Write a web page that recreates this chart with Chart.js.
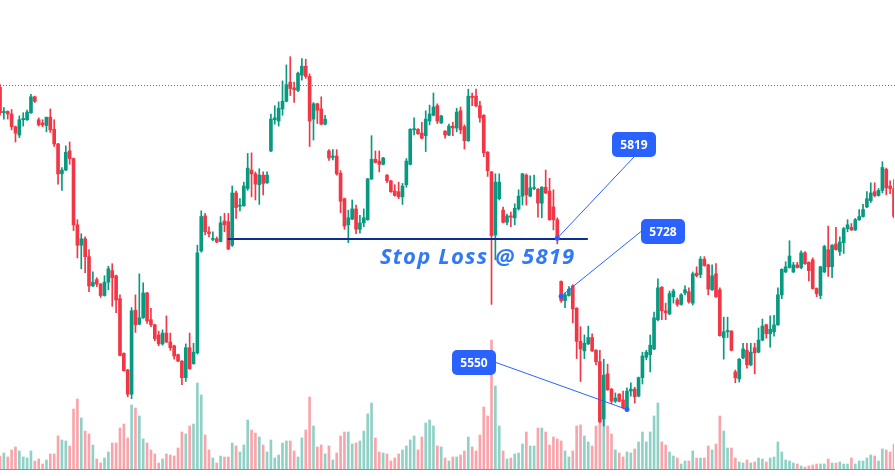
<!DOCTYPE html>
<html lang="en">
<head>
<meta charset="UTF-8">
<title>Stop Loss @ 5819</title>
<script src="https://cdn.jsdelivr.net/npm/chart.js"></script>
<style>
    html, body { margin: 0; padding: 0; background: #ffffff; }
    canvas { display: block; }
</style>
</head>
<body>
<canvas id="myChart" width="895" height="476"></canvas>

<script>
    // daily OHLC
    const opens = [
        6056, 6016, 6018, 6014, 5994, 5981, 6005, 6005, 6016, 6041,
        6005, 6000, 5996, 6009, 5990, 5967, 5920, 5926, 5956, 5944,
        5840, 5808, 5818, 5790, 5744, 5754, 5747, 5729, 5750, 5768,
        5760, 5724, 5638, 5612, 5574, 5706, 5684, 5694, 5733, 5691,
        5683, 5667, 5653, 5670, 5656, 5650, 5636, 5626, 5600, 5647,
        5622, 5639, 5799, 5854, 5829, 5817, 5818, 5814, 5846, 5845,
        5808, 5890, 5869, 5870, 5897, 5926, 5920, 5903, 5918, 5906,
        5956, 6005, 6003, 6022, 6034, 6064, 6055, 6051, 6075, 6089,
        6073, 6006, 6030, 6022, 5998, 5956, 5946, 5948, 5921, 5881,
        5840, 5849, 5865, 5833, 5843, 5848, 5912, 5943, 5940, 5935,
        5918, 5909, 5893, 5892, 5884, 5903, 5935, 5989, 5990, 5984,
        5980, 6003, 6012, 6027, 6000, 5987, 5981, 5995, 5992, 6019,
        5994, 5972, 6042, 6042, 6027, 6012, 5954, 5923, 5824, 5881,
        5863, 5844, 5854, 5851, 5865, 5885, 5918, 5885, 5897, 5896,
        5874, 5899, 5893, 5868, 5848, 5751, 5721, 5729, 5744, 5709,
        5657, 5642, 5653, 5663, 5643, 5625, 5535, 5606, 5582, 5563,
        5574, 5565, 5552, 5579, 5582, 5571, 5600, 5632, 5636, 5645,
        5691, 5742, 5705, 5700, 5727, 5722, 5715, 5733, 5735, 5717,
        5764, 5762, 5786, 5777, 5738, 5763, 5738, 5663, 5672, 5673,
        5609, 5598, 5631, 5643, 5620, 5647, 5640, 5659, 5683, 5669,
        5672, 5683, 5730, 5766, 5773, 5766, 5777, 5773, 5796, 5781,
        5785, 5740, 5729, 5766, 5801, 5774, 5810, 5798, 5812, 5834,
        5836, 5832, 5848, 5853, 5868, 5878, 5892, 5886, 5894, 5927,
        5901, 5897
    ];
    const highs = [
        6060, 6024, 6019, 6021, 5995, 6011, 6016, 6020, 6045, 6042,
        6008, 6005, 6009, 6022, 6005, 5968, 5930, 5964, 5970, 5945,
        5848, 5826, 5821, 5801, 5766, 5757, 5748, 5760, 5775, 5779,
        5761, 5730, 5639, 5613, 5710, 5730, 5763, 5749, 5734, 5709,
        5684, 5673, 5675, 5697, 5670, 5651, 5637, 5627, 5653, 5670,
        5654, 5808, 5862, 5858, 5837, 5829, 5821, 5853, 5858, 5858,
        5901, 5893, 5881, 5907, 5952, 5953, 5923, 5928, 5923, 5923,
        6014, 6027, 6033, 6066, 6091, 6104, 6064, 6080, 6101, 6100,
        6077, 6032, 6031, 6041, 6012, 5958, 5958, 5958, 5925, 5882,
        5863, 5879, 5871, 5855, 5865, 5913, 5980, 5956, 5956, 5946,
        5919, 5910, 5903, 5907, 5905, 5944, 5991, 6008, 5991, 6001,
        6019, 6028, 6047, 6030, 6012, 5988, 5998, 6001, 6023, 6025,
        5997, 6053, 6047, 6053, 6034, 6013, 5955, 5924, 5920, 5920,
        5868, 5857, 5860, 5873, 5895, 5921, 5920, 5917, 5918, 5897,
        5900, 5926, 5913, 5895, 5851, 5752, 5733, 5743, 5746, 5710,
        5680, 5667, 5681, 5669, 5644, 5643, 5629, 5621, 5583, 5576,
        5575, 5579, 5584, 5592, 5585, 5601, 5640, 5643, 5667, 5703,
        5755, 5743, 5717, 5736, 5739, 5725, 5732, 5744, 5741, 5766,
        5774, 5790, 5790, 5778, 5777, 5779, 5741, 5695, 5695, 5674,
        5612, 5630, 5654, 5654, 5654, 5654, 5678, 5692, 5684, 5697,
        5698, 5741, 5771, 5782, 5815, 5781, 5781, 5799, 5798, 5782,
        5788, 5741, 5775, 5808, 5838, 5809, 5836, 5821, 5836, 5848,
        5842, 5850, 5864, 5872, 5892, 5906, 5906, 5897, 5939, 5929,
        5909, 5911
    ];
    const lows = [
        6012, 6006, 6006, 5989, 5970, 5977, 5995, 6004, 6015, 6032,
        5995, 5994, 5986, 5985, 5963, 5904, 5894, 5925, 5935, 5831,
        5788, 5771, 5765, 5735, 5743, 5743, 5726, 5728, 5738, 5712,
        5702, 5634, 5610, 5570, 5567, 5671, 5683, 5693, 5685, 5680,
        5658, 5650, 5651, 5655, 5643, 5629, 5625, 5589, 5594, 5613,
        5621, 5637, 5797, 5824, 5821, 5815, 5812, 5813, 5829, 5801,
        5806, 5850, 5862, 5869, 5894, 5884, 5879, 5872, 5887, 5905,
        5955, 5998, 5995, 6012, 6033, 6043, 6032, 6049, 6067, 6070,
        5963, 5973, 5999, 5997, 5997, 5941, 5942, 5918, 5859, 5833,
        5812, 5848, 5826, 5827, 5837, 5847, 5911, 5937, 5923, 5934,
        5906, 5891, 5885, 5881, 5872, 5899, 5934, 5981, 5982, 5975,
        5955, 5997, 6011, 5999, 5999, 5976, 5980, 5980, 5986, 5983,
        5959, 5971, 6027, 6025, 6001, 5947, 5916, 5715, 5785, 5879,
        5843, 5840, 5837, 5840, 5863, 5871, 5871, 5884, 5895, 5852,
        5851, 5889, 5847, 5832, 5810, 5718, 5710, 5728, 5686, 5630,
        5594, 5630, 5652, 5641, 5620, 5529, 5524, 5580, 5559, 5561,
        5562, 5551, 5550, 5571, 5560, 5570, 5590, 5628, 5609, 5644,
        5689, 5691, 5691, 5699, 5717, 5712, 5714, 5730, 5717, 5714,
        5758, 5757, 5775, 5730, 5737, 5726, 5665, 5629, 5663, 5642,
        5592, 5593, 5630, 5615, 5619, 5606, 5639, 5658, 5662, 5648,
        5665, 5682, 5724, 5765, 5772, 5765, 5772, 5771, 5778, 5752,
        5739, 5727, 5724, 5765, 5759, 5757, 5800, 5792, 5795, 5829,
        5831, 5831, 5847, 5852, 5867, 5875, 5884, 5885, 5890, 5887,
        5889, 5851
    ];
    const closes = [
        6016, 6018, 6014, 5994, 5984, 6005, 6007, 6017, 6041, 6034,
        5997, 5997, 6009, 5989, 5967, 5920, 5926, 5954, 5944, 5840,
        5808, 5818, 5790, 5744, 5750, 5747, 5729, 5750, 5771, 5757,
        5722, 5635, 5611, 5574, 5705, 5683, 5694, 5733, 5689, 5683,
        5661, 5653, 5670, 5656, 5647, 5634, 5626, 5600, 5647, 5614,
        5640, 5796, 5853, 5829, 5826, 5818, 5813, 5843, 5840, 5802,
        5890, 5867, 5871, 5901, 5929, 5920, 5904, 5918, 5905, 5918,
        6006, 6008, 6023, 6034, 6060, 6054, 6052, 6078, 6089, 6073,
        6003, 6030, 6020, 5998, 6006, 5945, 5948, 5920, 5877, 5838,
        5851, 5865, 5833, 5843, 5851, 5912, 5943, 5938, 5935, 5945,
        5909, 5892, 5886, 5884, 5901, 5940, 5990, 5991, 5983, 5976,
        6006, 6014, 6025, 6003, 6011, 5981, 5995, 5992, 6017, 5989,
        5972, 6042, 6040, 6027, 6008, 5953, 5925, 5823, 5907, 5907,
        5844, 5854, 5852, 5866, 5885, 5920, 5887, 5898, 5898, 5874,
        5899, 5890, 5848, 5848, 5819, 5721, 5730, 5739, 5708, 5657,
        5645, 5654, 5663, 5642, 5625, 5531, 5604, 5581, 5563, 5568,
        5563, 5553, 5579, 5582, 5570, 5600, 5634, 5640, 5651, 5694,
        5741, 5705, 5702, 5732, 5736, 5715, 5730, 5738, 5719, 5763,
        5760, 5786, 5776, 5739, 5760, 5727, 5666, 5672, 5674, 5643,
        5600, 5629, 5645, 5620, 5640, 5639, 5659, 5681, 5669, 5676,
        5683, 5730, 5770, 5774, 5791, 5777, 5773, 5796, 5779, 5768,
        5740, 5732, 5774, 5806, 5774, 5808, 5801, 5813, 5834, 5840,
        5832, 5848, 5853, 5864, 5881, 5890, 5886, 5894, 5930, 5898,
        5897, 5853
    ];
    // volume in thousands
    const volumes = [
        14, 17, 13, 20, 23, 19, 13, 12, 19, 9,
        11, 6, 10, 16, 16, 34, 30, 29, 24, 61,
        71, 52, 39, 36, 25, 11, 7, 12, 18, 27,
        27, 42, 46, 32, 65, 62, 54, 31, 27, 20,
        16, 7, 11, 16, 15, 14, 22, 38, 36, 44,
        46, 87, 75, 35, 20, 12, 7, 14, 13, 13,
        27, 24, 18, 25, 50, 40, 37, 33, 25, 18,
        30, 12, 15, 27, 29, 29, 19, 13, 32, 40,
        73, 44, 23, 25, 16, 24, 10, 17, 34, 38,
        38, 26, 27, 29, 39, 56, 67, 32, 18, 17,
        16, 9, 12, 16, 20, 24, 30, 34, 20, 33,
        47, 50, 44, 24, 23, 12, 9, 13, 13, 15,
        19, 33, 23, 19, 35, 63, 54, 130, 84, 44,
        19, 11, 12, 16, 17, 26, 38, 24, 24, 42,
        42, 38, 25, 33, 31, 29, 19, 13, 19, 44,
        45, 34, 28, 24, 44, 51, 50, 44, 36, 20,
        17, 13, 18, 17, 21, 28, 38, 28, 38, 54,
        67, 28, 25, 18, 14, 12, 6, 9, 9, 19,
        12, 12, 12, 24, 20, 26, 54, 39, 22, 22,
        12, 8, 7, 10, 7, 8, 12, 11, 8, 12,
        13, 28, 18, 10, 9, 7, 6, 4, 3, 4,
        5, 6, 6, 6, 11, 7, 7, 8, 6, 6,
        12, 6, 9, 9, 12, 15, 14, 9, 21, 20,
        18, 26
    ];
    const labels = opens.map((o, i) => 'Day ' + (i + 1));

    const stopLoss = 5819;
    const stopLossFrom = 58.8;   // bar index where the line starts
    const stopLossTo = 151.9;    // bar index where it ends
    const dottedLevel = 6060;

    // price callouts: bar index + price they point at
    const calloutLabels = ['5819', '5728', '5550'];
    const calloutIndex = [144, 145, 162];
    const calloutPrice = [5819, 5728, 5550];

    const upColor = '#089981';
    const downColor = '#f23645';
    const candleColors = opens.map((o, i) => closes[i] >= o ? upColor : downColor);
    const volumeColors = opens.map((o, i) => closes[i] >= o ? 'rgba(8,153,129,0.45)' : 'rgba(242,54,69,0.45)');

    // where the callout boxes sit, and which side the line joins
    const boxes = [
        { x: 612, y: 132, w: 44, h: 25, side: 'bottom' },
        { x: 641, y: 219, w: 44, h: 25, side: 'left' },
        { x: 452, y: 350, w: 44, h: 25, side: 'right' }
    ];

    const overlay = {
        id: 'overlay',
        beforeDatasetsDraw(chart) {
            const { ctx, chartArea } = chart;
            const y = chart.scales.y;
            const py = Math.round(y.getPixelForValue(dottedLevel)) + 0.5;
            ctx.save();
            ctx.strokeStyle = upColor;
            ctx.lineWidth = 1;
            ctx.setLineDash([1, 2]);
            ctx.beginPath();
            ctx.moveTo(0, py);
            ctx.lineTo(chart.width, py);
            ctx.stroke();
            ctx.setLineDash([]);

            // label text sits under the wicks
            ctx.fillStyle = '#3179f5';
            ctx.font = 'italic bold 22px "Open Sans"';
            ctx.letterSpacing = '1.2px';
            ctx.textAlign = 'left';
            ctx.textBaseline = 'alphabetic';
            ctx.fillText('Stop Loss @ ' + stopLoss, 380, 264);
            ctx.restore();
        },
        afterDatasetsDraw(chart) {
            const { ctx, chartArea } = chart;
            const x = chart.scales.x;
            const y = chart.scales.y;
            ctx.save();

            // bottom border under the volume
            ctx.strokeStyle = '#5b9cf6';
            ctx.lineWidth = 1;
            ctx.beginPath();
            ctx.moveTo(0, chartArea.bottom - 0.5);
            ctx.lineTo(chart.width, chartArea.bottom - 0.5);
            ctx.stroke();

            // stop loss line
            const sy = Math.round(y.getPixelForValue(stopLoss)) + 1;
            ctx.strokeStyle = '#0c2f91';
            ctx.lineWidth = 2;
            ctx.beginPath();
            ctx.moveTo(x.getPixelForValue(stopLossFrom), sy);
            ctx.lineTo(x.getPixelForValue(stopLossTo), sy);
            ctx.stroke();

            // callouts
            for (let i = 0; i < calloutLabels.length; i++) {
                const ax = x.getPixelForValue(calloutIndex[i]);
                const ay = y.getPixelForValue(calloutPrice[i]);
                const b = boxes[i];
                let ex = b.x + b.w / 2, ey = b.y + b.h;
                if (b.side == 'left') { ex = b.x; ey = b.y + b.h / 2; }
                if (b.side == 'right') { ex = b.x + b.w; ey = b.y + b.h / 2; }

                ctx.strokeStyle = '#2962ff';
                ctx.lineWidth = 1;
                ctx.beginPath();
                ctx.moveTo(ax, ay);
                ctx.lineTo(ex, ey);
                ctx.stroke();

                ctx.fillStyle = '#2962ff';
                ctx.beginPath();
                ctx.arc(ax, ay, 2.5, 0, Math.PI * 2);
                ctx.fill();

                ctx.beginPath();
                ctx.roundRect(b.x, b.y, b.w, b.h, 5);
                ctx.fill();

                ctx.fillStyle = '#ffffff';
                ctx.font = 'bold 12px "Open Sans"';
                ctx.textAlign = 'center';
                ctx.textBaseline = 'middle';
                ctx.fillText(calloutLabels[i], b.x + b.w / 2, b.y + b.h / 2 + 1);
            }
            ctx.restore();
        }
    };

    new Chart(document.getElementById('myChart'), {
        type: 'bar',
        data: {
            labels: labels,
            datasets: [
                {
                    label: 'Body',
                    data: opens.map((o, i) => [o, closes[i]]),
                    backgroundColor: candleColors,
                    barThickness: 3,
                    minBarLength: 1,
                    grouped: false,
                    order: 1,
                    yAxisID: 'y'
                },
                {
                    label: 'Wick',
                    data: lows.map((l, i) => [l, highs[i]]),
                    backgroundColor: candleColors,
                    barThickness: 1,
                    grouped: false,
                    order: 2,
                    yAxisID: 'y'
                },
                {
                    label: 'Volume',
                    data: volumes,
                    backgroundColor: volumeColors,
                    barThickness: 2,
                    grouped: false,
                    order: 3,
                    yAxisID: 'yv'
                }
            ]
        },
        options: {
            responsive: false,
            animation: false,
            layout: { padding: { left: 0, right: 1, top: 0, bottom: 6 } },
            plugins: {
                legend: { display: false },
                tooltip: { enabled: false }
            },
            scales: {
                x: { display: false, offset: false, grid: { offset: false } },
                y: { display: false, min: 5455, max: 6193 },
                yv: { display: false, min: 0, max: 470, position: 'right' }
            }
        },
        plugins: [overlay]
    });
</script>
</body>
</html>
